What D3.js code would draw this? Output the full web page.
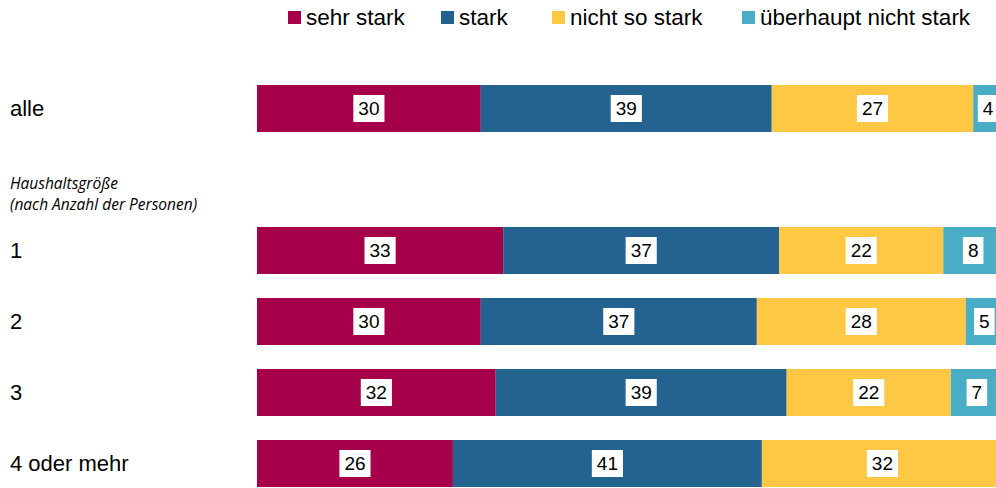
<!DOCTYPE html>
<html><head><meta charset="utf-8">
<script src="https://cdn.jsdelivr.net/npm/d3@7"></script>
<style>
html,body{margin:0;padding:0;background:#fff;overflow:hidden}
svg{display:block}
text{font-family:"Liberation Sans",Arial,sans-serif}
</style></head>
<body>
<svg id="c" width="996" height="488"></svg>
<script>
const categories = ["alle","1","2","3","4 oder mehr"];
const seriesNames = ["sehr stark","stark","nicht so stark","überhaupt nicht stark"];
const sehrStark = [30,33,30,32,26];
const stark = [39,37,37,39,41];
const nichtSoStark = [27,22,28,22,32];
const ueberhauptNicht = [4,8,5,7,null];
const colors = ["#A6004A","#246290","#FEC844","#4AADC6"];
const subtitle = ["Haushaltsgröße","(nach Anzahl der Personen)"];

const series = [sehrStark, stark, nichtSoStark, ueberhauptNicht];
const svg = d3.select("#c");

const slots = ["alle","__gap","1","2","3","4 oder mehr"];
const y = d3.scaleBand().domain(slots).range([85, 487]).paddingInner(24/71).paddingOuter(0);
const x = d3.scaleLinear().domain([0,100]).range([257, 1003]);

// stacked data, each row shown as 100 %
const rows = categories.map((c,i)=>{
  const total = d3.sum(series, s=>s[i] || 0);
  let acc = 0; const segs = [];
  series.forEach((s,j)=>{
    const v = s[i];
    if (v == null) return;
    const p = v/total*100;
    segs.push({cat:c, s:j, v, x0:acc, x1:acc+p});
    acc += p;
  });
  return segs;
});
const segs = rows.flat();

svg.append("g").selectAll("rect").data(segs).join("rect")
  .attr("x", d=>x(d.x0)).attr("y", d=>y(d.cat))
  .attr("width", d=>x(d.x1)-x(d.x0)).attr("height", y.bandwidth())
  .attr("fill", d=>colors[d.s]);

const lg = svg.append("g").selectAll("g").data(segs).join("g")
  .attr("transform", d=>`translate(${(x(d.x0)+x(d.x1))/2},${y(d.cat)+y.bandwidth()/2})`);
lg.append("text").attr("text-anchor","middle").attr("dy","0.36em")
  .attr("font-size",19).attr("fill","#000").text(d=>d.v);
lg.each(function(){
  const g = d3.select(this);
  const w = g.select("text").node().getComputedTextLength();
  g.insert("rect","text").attr("x",-w/2-5).attr("y",-13.5).attr("width",w+10).attr("height",27).attr("fill","#fff");
});

// category labels
svg.append("g").selectAll("text").data(categories).join("text")
  .attr("x",10).attr("y",d=>y(d)+y.bandwidth()/2).attr("dy","0.36em")
  .attr("font-size",22).attr("fill","#000").text(d=>d);

// subtitle
svg.append("g").selectAll("text").data(subtitle).join("text")
  .attr("x",10).attr("y",(d,i)=>189+i*21)
  .style("font-family","'Open Sans',sans-serif").style("font-style","italic")
  .attr("font-size",15.5).attr("fill","#000").text(d=>d);

// legend
const legX = [288,441,552,742];
const leg = svg.append("g").selectAll("g").data(seriesNames).join("g")
  .attr("transform",(d,i)=>`translate(${legX[i]},0)`);
leg.append("rect").attr("x",0).attr("y",11).attr("width",13).attr("height",13).attr("fill",(d,i)=>colors[i]);
leg.append("text").attr("x",18).attr("y",25).attr("font-size",22.5).attr("fill","#000").text(d=>d);
</script>
</body></html>
